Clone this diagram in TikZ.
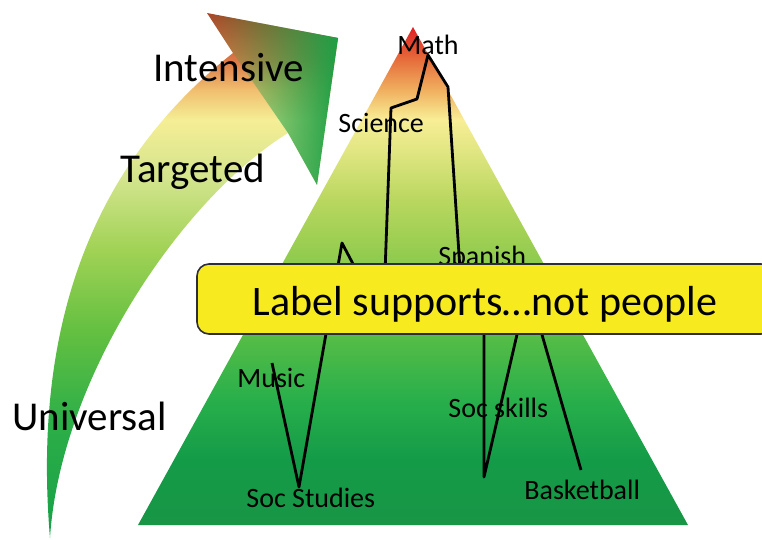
\documentclass[tikz,border=0pt]{standalone}
\usepackage{fontspec}
\setmainfont{Carlito}
\usepackage{xcolor}
\usetikzlibrary{fadings}
\definecolor{pyrA}{RGB}{24,150,70}
\definecolor{pyrB}{RGB}{20,155,72}
\definecolor{pyrC}{RGB}{40,175,75}
\definecolor{pyrD}{RGB}{90,190,70}
\definecolor{pyrE}{RGB}{150,205,80}
\definecolor{pyrF}{RGB}{185,215,95}
\definecolor{pyrG}{RGB}{225,230,130}
\definecolor{pyrH}{RGB}{248,238,150}
\definecolor{pyrI}{RGB}{240,175,95}
\definecolor{pyrJ}{RGB}{230,110,60}
\definecolor{pyrK}{RGB}{225,30,35}
\definecolor{arrA}{RGB}{22,160,72}
\definecolor{arrB}{RGB}{45,175,72}
\definecolor{arrC}{RGB}{100,192,65}
\definecolor{arrD}{RGB}{160,210,85}
\definecolor{arrE}{RGB}{210,228,140}
\definecolor{arrF}{RGB}{245,238,150}
\definecolor{arrG}{RGB}{240,190,110}
\definecolor{arrH}{RGB}{220,120,70}
\definecolor{arrI}{RGB}{170,70,40}
\definecolor{headgreen}{RGB}{30,160,70}
\definecolor{boxyellow}{RGB}{247,235,32}
\definecolor{boxedge}{RGB}{45,45,60}
\pgfdeclareverticalshading{pyramidshade}{100bp}{color(0bp)=(pyrA); color(25bp)=(pyrA); color(31.5bp)=(pyrB); color(37.5bp)=(pyrC); color(44.6bp)=(pyrD); color(52.6bp)=(pyrE); color(57.6bp)=(pyrF); color(62.6bp)=(pyrG); color(65.7bp)=(pyrH); color(68.7bp)=(pyrI); color(71.7bp)=(pyrJ); color(75bp)=(pyrK); color(100bp)=(pyrK)}
\pgfdeclareverticalshading{arrowshade}{100bp}{color(0bp)=(arrA); color(25bp)=(arrA); color(36.2bp)=(arrB); color(44.8bp)=(arrC); color(52.4bp)=(arrD); color(59.1bp)=(arrE); color(64.8bp)=(arrF); color(67.7bp)=(arrG); color(70.5bp)=(arrH); color(75bp)=(arrI); color(100bp)=(arrI)}
\tikzfading[name=headfade, left color=transparent!100, middle color=transparent!100, right color=transparent!0]

\begin{document}
\begin{tikzpicture}[x=0.5pt,y=-0.5pt,
	big/.style={font=\fontsize{20.5}{24}\selectfont,anchor=base west,inner sep=0pt},
	small/.style={font=\fontsize{14}{16}\selectfont,anchor=base west,inner sep=0pt},
	link/.style={line width=1.4pt,line join=round}]
		\useasboundingbox (0,0) rectangle (762,540);
		\shade[shading=arrowshade] (50,538) .. controls (60,380) and (180,200) .. (288,133) -- (317,185) -- (338,38) -- (207,13) -- (233,53) .. controls (110,150) and (30,300) .. (50,538) -- cycle;
		\fill[headgreen,path fading=headfade] (233,53) -- (207,13) -- (338,38) -- (317,185) -- (288,133) -- cycle;
		\shade[shading=pyramidshade] (413,27) -- (688,525) -- (138,525) -- cycle;
		\node[big] (intensive) at (153,82) {Intensive};
		\node[big] (targeted) at (120,183) {Targeted};
		\node[big] (universal) at (12,430) {Universal};
		\foreach \n/\x/\y/\t in {math/397/55/Math,science/338/133/Science,spanish/438/266/Spanish,music/237/387/Music,socskills/448/417/Soc skills,socstudies/246/508/Soc Studies,basketball/524/500/Basketball} \node[small] (\n) at (\x,\y) {\t};
		\foreach \n/\x/\y in {s0/384/300,s1/391/108,s2/417/99,s3/428/55,s4/448/87,s5/462/300,m0/272/363,m1/299/487,m2/342/243,m3/372/300,k0/484/300,k1/484/477,k2/525/300,b0/532/300,b1/581/470} \coordinate (\n) at (\x,\y);
		\draw[link] (s0) -- (s1) -- (s2) -- (s3) -- (s4) -- (s5);
		\draw[link] (m0) -- (m1) -- (m2) -- (m3);
		\draw[link] (k0) -- (k1) -- (k2);
		\draw[link] (b0) -- (b1);
		\node[draw=boxedge,fill=boxyellow,line width=0.8pt,rounded corners=6pt,minimum width=288pt,minimum height=35pt,text height=18pt,text depth=2pt,font=\fontsize{21}{25}\selectfont] (banner) at (485,299) {Label supports…not people};
	\end{tikzpicture}
\end{document}
